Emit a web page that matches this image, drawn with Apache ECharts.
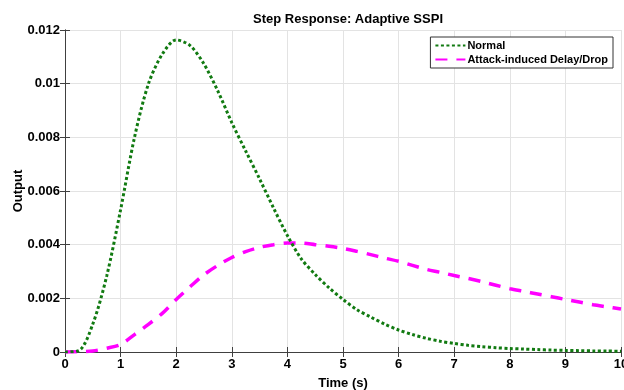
<!DOCTYPE html>
<html>
<head>
<meta charset="utf-8">
<script src="https://cdn.jsdelivr.net/npm/echarts@6/dist/echarts.min.js"></script>
<style>
html, body { margin: 0; padding: 0; background: #fff; }
#main { width: 624px; height: 390px; }
</style>
</head>
<body>
<div id="main"></div>
<script>
// time samples (s) and read-off output values
var times = [0, 0.25, 0.5, 0.75, 1, 1.25, 1.5, 1.75, 2, 2.25, 2.5, 2.75, 3, 3.25, 3.5, 3.75, 4, 4.25, 4.5, 4.75,
	5, 5.25, 5.5, 5.75, 6, 6.25, 6.5, 6.75, 7, 7.25, 7.5, 7.75, 8, 8.25, 8.5, 8.75, 9, 9.25, 9.5, 9.75, 10];
var normal = [0, 0.00005, 0.00104, 0.00283, 0.0053, 0.0080, 0.00999, 0.0111, 0.01163, 0.01142, 0.01073, 0.00972,
	0.00855, 0.00749, 0.00645, 0.00537, 0.00434, 0.00347, 0.00289, 0.00239, 0.00196, 0.00158, 0.0013, 0.00104,
	0.00082, 0.00065, 0.00051, 0.0004, 0.00032, 0.00025, 0.0002, 0.00016, 0.00013, 0.00011, 0.00009, 0.00007,
	0.00006, 0.00005, 0.00004, 0.000035, 0.00003];
var attack = [0, 0.00001, 0.00004, 0.00014, 0.00028, 0.00065, 0.00103, 0.00144, 0.00196, 0.00243, 0.00288, 0.00323,
	0.00352, 0.00374, 0.0039, 0.004, 0.00406, 0.00406, 0.004, 0.00394, 0.00386, 0.00375, 0.00363, 0.0035,
	0.00338, 0.00323, 0.00308, 0.00297, 0.00285, 0.00274, 0.00262, 0.00249, 0.00236, 0.00226, 0.00216, 0.00206,
	0.00196, 0.00186, 0.00176, 0.00168, 0.0016];
var seriesNames = ['Normal', 'Attack-induced Delay/Drop'];
var xTicks = [0, 1, 2, 3, 4, 5, 6, 7, 8, 9, 10];
var yTicks = [0, 0.002, 0.004, 0.006, 0.008, 0.01, 0.012];

function pairs(vals) {
	return times.map(function(t, i) { return [t, vals[i]]; });
}

var font = 'Liberation Sans, Arial, sans-serif';
var axisCol = '#404040';
var gridCol = '#e3e3e3';

var myChart = echarts.init(document.getElementById('main'));
var option = {
	animation: false,
	backgroundColor: '#fff',
	title: {
		text: 'Step Response: Adaptive SSPI',
		left: 343,
		top: 8,
		textAlign: 'center',
		textStyle: { fontFamily: font, fontSize: 13, fontWeight: 'bold', color: '#000' }
	},
	legend: {
		orient: 'vertical',
		right: 11,
		top: 37,
		padding: [3, 5, 3, 4],
		itemGap: 3,
		itemWidth: 30,
		itemHeight: 11,
		backgroundColor: '#fff',
		borderColor: '#333',
		borderWidth: 1,
		borderRadius: 0,
		data: seriesNames,
		itemStyle: { color: 'rgba(0,0,0,0)', borderWidth: 0 },
		textStyle: { fontFamily: font, fontSize: 11, fontWeight: 'bold', color: '#000', padding: [0, 0, 0, -3] }
	},
	grid: { left: 65, right: 3, top: 30, bottom: 38, containLabel: false, outerBoundsMode: 'none' },
	xAxis: [{
		type: 'value',
		min: 0, max: 10, interval: 1,
		name: 'Time (s)',
		nameLocation: 'middle',
		nameGap: 25,
		nameMoveOverlap: false,
		nameTextStyle: { fontFamily: font, fontSize: 13, fontWeight: 'bold', color: '#000' },
		axisLine: { show: true, lineStyle: { color: axisCol, width: 1 } },
		axisTick: { show: true, inside: true, length: 5, lineStyle: { color: axisCol } },
		axisLabel: { fontFamily: font, fontSize: 13, fontWeight: 'bold', color: '#000', margin: 6,
			formatter: function(v) { return xTicks.indexOf(v) >= 0 ? String(v) : ''; } },
		splitLine: { show: true, lineStyle: { color: gridCol, width: 1 } }
	}, {
		type: 'value', position: 'top',
		min: 0, max: 10, interval: 1,
		axisLine: { show: true, lineStyle: { color: axisCol, width: 1 } },
		axisTick: { show: true, inside: true, length: 5, lineStyle: { color: axisCol } },
		axisLabel: { show: false },
		splitLine: { show: false }
	}],
	yAxis: [{
		type: 'value',
		min: 0, max: 0.012, interval: 0.002,
		name: 'Output',
		nameLocation: 'middle',
		nameGap: 40,
		nameMoveOverlap: false,
		nameTextStyle: { fontFamily: font, fontSize: 13, fontWeight: 'bold', color: '#000' },
		axisLine: { show: true, lineStyle: { color: axisCol, width: 1 } },
		axisTick: { show: true, inside: true, length: 5, lineStyle: { color: axisCol } },
		axisLabel: { fontFamily: font, fontSize: 13, fontWeight: 'bold', color: '#000', margin: 5,
			formatter: function(v) {
				var r = Math.round(v * 1000) / 1000;
				return r === 0 ? '0' : String(r);
			} },
		splitLine: { show: true, lineStyle: { color: gridCol, width: 1 } }
	}, {
		type: 'value', position: 'right',
		min: 0, max: 0.012, interval: 0.002,
		axisLine: { show: true, lineStyle: { color: axisCol, width: 1 } },
		axisTick: { show: true, inside: true, length: 5, lineStyle: { color: axisCol } },
		axisLabel: { show: false },
		splitLine: { show: false }
	}],
	series: [{
		name: seriesNames[0],
		type: 'line',
		data: pairs(normal),
		smooth: 0.3,
		symbol: 'none',
		showSymbol: false,
		z: 3,
		itemStyle: { color: '#117a11' },
		lineStyle: { color: '#117a11', width: 3, type: [3, 2.5] }
	}, {
		name: seriesNames[1],
		type: 'line',
		data: pairs(attack),
		smooth: 0.3,
		symbol: 'none',
		showSymbol: false,
		z: 2,
		itemStyle: { color: '#ff00ff' },
		lineStyle: { color: '#ff00ff', width: 3.5, type: [12, 9] }
	}]
};
myChart.setOption(option);
</script>
</body>
</html>
